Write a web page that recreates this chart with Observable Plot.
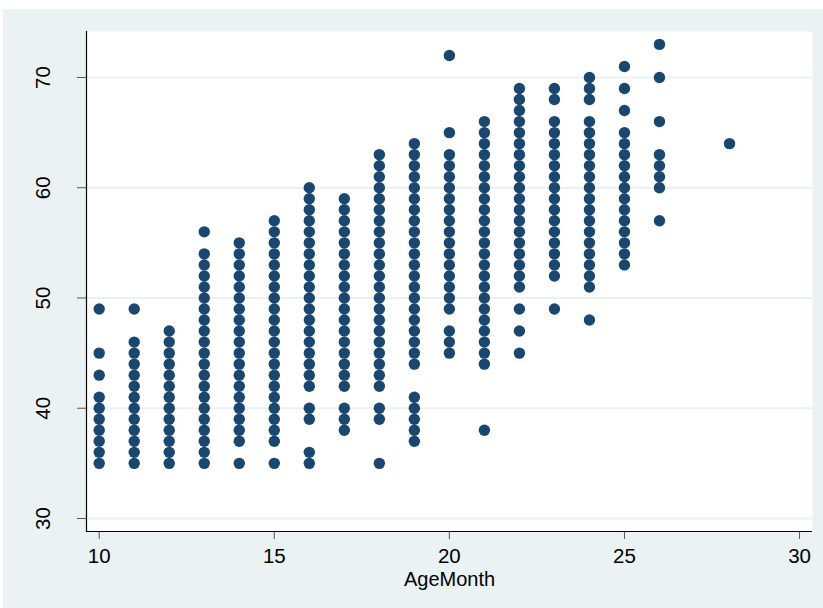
<!DOCTYPE html>
<html><head><meta charset="utf-8">
<script src="https://cdn.jsdelivr.net/npm/d3@7"></script>
<script src="https://cdn.jsdelivr.net/npm/@observablehq/plot@0.6"></script>
<style>
html,body{margin:0;padding:0;background:#fff;}
#wrap{position:absolute;left:3px;top:9px;width:820px;height:599px;background:#eaf2f3;}
#wrap svg{display:block;}
</style></head><body><div id="wrap"></div>
<script>
const ages = [10, 11, 12, 13, 14, 15, 16, 17, 18, 19, 20, 21, 22, 23, 24, 25, 26, 28];
const heights = [
  [49, 45, 43, 41, 40, 39, 38, 37, 36, 35],
  [49, 46, 45, 44, 43, 42, 41, 40, 39, 38, 37, 36, 35],
  [47, 46, 45, 44, 43, 42, 41, 40, 39, 38, 37, 36, 35],
  [56, 54, 53, 52, 51, 50, 49, 48, 47, 46, 45, 44, 43, 42, 41, 40, 39, 38, 37, 36, 35],
  [55, 54, 53, 52, 51, 50, 49, 48, 47, 46, 45, 44, 43, 42, 41, 40, 39, 38, 37, 35],
  [57, 56, 55, 54, 53, 52, 51, 50, 49, 48, 47, 46, 45, 44, 43, 42, 41, 40, 39, 38, 37, 35],
  [60, 59, 58, 57, 56, 55, 54, 53, 52, 51, 50, 49, 48, 47, 46, 45, 44, 43, 42, 40, 39, 36, 35],
  [59, 58, 57, 56, 55, 54, 53, 52, 51, 50, 49, 48, 47, 46, 45, 44, 43, 42, 40, 39, 38],
  [63, 62, 61, 60, 59, 58, 57, 56, 55, 54, 53, 52, 51, 50, 49, 48, 47, 46, 45, 44, 43, 42, 40, 39, 35],
  [64, 63, 62, 61, 60, 59, 58, 57, 56, 55, 54, 53, 52, 51, 50, 49, 48, 47, 46, 45, 44, 41, 40, 39, 38, 37],
  [72, 65, 63, 62, 61, 60, 59, 58, 57, 56, 55, 54, 53, 52, 51, 50, 49, 47, 46, 45],
  [66, 65, 64, 63, 62, 61, 60, 59, 58, 57, 56, 55, 54, 53, 52, 51, 50, 49, 48, 47, 46, 45, 44, 38],
  [69, 68, 67, 66, 65, 64, 63, 62, 61, 60, 59, 58, 57, 56, 55, 54, 53, 52, 51, 49, 47, 45],
  [69, 68, 66, 65, 64, 63, 62, 61, 60, 59, 58, 57, 56, 55, 54, 53, 52, 49],
  [70, 69, 68, 66, 65, 64, 63, 62, 61, 60, 59, 58, 57, 56, 55, 54, 53, 52, 51, 48],
  [71, 69, 67, 65, 64, 63, 62, 61, 60, 59, 58, 57, 56, 55, 54, 53],
  [73, 70, 66, 63, 62, 61, 60, 57],
  [64]
];
const xTicks = [10, 15, 20, 25, 30];
const yTicks = [30, 40, 50, 60, 70];
const xLabel = "AgeMonth";

const points = ages.flatMap((a, i) => heights[i].map(h => ({age: a, height: h})));
const xDomain = [9.637, 30.37];
const yDomain = [28.82, 74.17];
const font = "'Liberation Sans', Arial, Helvetica, sans-serif";

const chart = Plot.plot({
  width: 820, height: 599,
  marginLeft: 83, marginRight: 11, marginTop: 22, marginBottom: 77,
  style: {background: "transparent", fontFamily: font, fontSize: "20px", color: "#000"},
  x: {domain: xDomain, axis: null},
  y: {domain: yDomain, axis: null},
  marks: [
    Plot.frame({fill: "#fff", stroke: "none"}),
    Plot.gridY(yTicks, {stroke: "#eaf2f3", strokeOpacity: 1, strokeWidth: 2}),
    Plot.axisY(yTicks, {anchor: "left", tickSize: 9, tickFormat: () => "", label: null, stroke: "#555"}),
    Plot.axisX(xTicks, {anchor: "bottom", tickSize: 8, tickFormat: () => "", label: null, stroke: "#555"}),
    Plot.ruleX([xDomain[0]], {stroke: "#000", strokeWidth: 1.2}),
    Plot.ruleY([yDomain[0]], {stroke: "#000", strokeWidth: 1.2}),
    Plot.text(yTicks, {y: d => d, text: d => String(d), frameAnchor: "left", rotate: -90, dx: -43, textAnchor: "middle", lineAnchor: "middle", fontSize: 20.5, fill: "#000"}),
    Plot.text(xTicks, {x: d => d, text: d => String(d), frameAnchor: "bottom", dy: 25, textAnchor: "middle", lineAnchor: "middle", fontSize: 20.5, fill: "#000"}),
    Plot.text([xLabel], {text: d => d, frameAnchor: "bottom", dy: 48, textAnchor: "middle", lineAnchor: "middle", fontSize: 20, fill: "#000"}),
    Plot.dot(points, {x: "age", y: "height", r: 5.7, fill: "#1a476f", stroke: "none"})
  ]
});
document.getElementById("wrap").appendChild(chart);
</script></body></html>
